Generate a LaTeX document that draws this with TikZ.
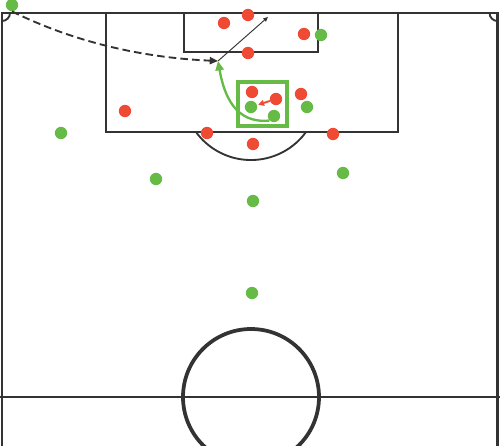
\documentclass[tikz,border=0pt]{standalone}
\usepackage{tikz}
\usetikzlibrary{arrows.meta}
\definecolor{pitchline}{HTML}{333333}
\definecolor{teamgreen}{HTML}{66BB46}
\definecolor{teamred}{HTML}{EF4B34}
\tikzset{
  player/.style={circle, inner sep=0mm, minimum size=3.7mm, draw=none},
  attacker/.style={player, fill=teamgreen},
  defender/.style={player, fill=teamred},
  touchline/.style={draw=pitchline, line width=2.4pt},
  boxline/.style={draw=pitchline, line width=1.6pt},
  circleline/.style={draw=pitchline, line width=3.2pt},
  cross ball/.style={draw=pitchline, line width=1.6pt, dash pattern=on 6.5pt off 3.5pt, -{Triangle[length=7pt,width=6pt]}},
  flick on/.style={draw=pitchline, line width=0.8pt, -{Triangle[length=4pt,width=3.5pt]}},
  run/.style={draw=teamgreen, line width=2pt, -{Triangle[length=8pt,width=7pt]}},
  press/.style={draw=teamred, line width=1.6pt, -{Triangle[length=5pt,width=5pt]}, shorten >=1pt},
}
\begin{document}
\begin{tikzpicture}[x=0.03cm, y=-0.03cm]
\clip (0,0) rectangle (500,446);

% pitch
\draw[touchline] (2,470) -- (2,13) -- (497.5,13) -- (497.5,470);
\draw[boxline] (0,397) -- (500,397);
\draw[boxline] (106,13) -- (106,132) -- (398,132) -- (398,13);
\draw[boxline] (184,13) -- (184,52) -- (318,52) -- (318,13);
\draw[boxline] (306,132) arc[start angle=36, end angle=144, radius=68];
\draw[boxline] (2,21) arc[start angle=90, end angle=0, radius=8];
\draw[boxline] (497.5,21) arc[start angle=90, end angle=180, radius=8];
\draw[circleline] (251,397) circle[radius=68];

% marked zone
\draw[draw=teamgreen, line width=3.2pt] (238,82) rectangle (287,126);

% players
\node[attacker] (g1) at (12,5) {};
\node[attacker] (g2) at (321,35) {};
\node[attacker] (g3) at (251,107) {};
\node[attacker] (g4) at (274,116) {};
\node[attacker] (g5) at (307,107) {};
\node[attacker] (g6) at (61,133) {};
\node[attacker] (g7) at (156,179) {};
\node[attacker] (g8) at (343,173) {};
\node[attacker] (g9) at (253,201) {};
\node[attacker] (g10) at (252,293) {};

\node[defender] (r1) at (224,23) {};
\node[defender] (r2) at (248,15) {};
\node[defender] (r3) at (304,34) {};
\node[defender] (r4) at (248,53) {};
\node[defender] (r5) at (252,92) {};
\node[defender] (r6) at (276,99) {};
\node[defender] (r7) at (301,94) {};
\node[defender] (r8) at (125,111) {};
\node[defender] (r9) at (207,133) {};
\node[defender] (r10) at (253,144) {};
\node[defender] (r11) at (333,134) {};

% movements
\coordinate (landing) at (218,61);
\coordinate (flick) at (268,17);
\draw[cross ball] (g1.south) .. controls (80,45) and (150,58) .. (landing);
\draw[flick on] (landing) -- (flick);
\draw[run] (g4.south west) .. controls (235,124) and (224,95) .. (landing);
\draw[press] (r6) -- (g3);
\end{tikzpicture}
\end{document}
